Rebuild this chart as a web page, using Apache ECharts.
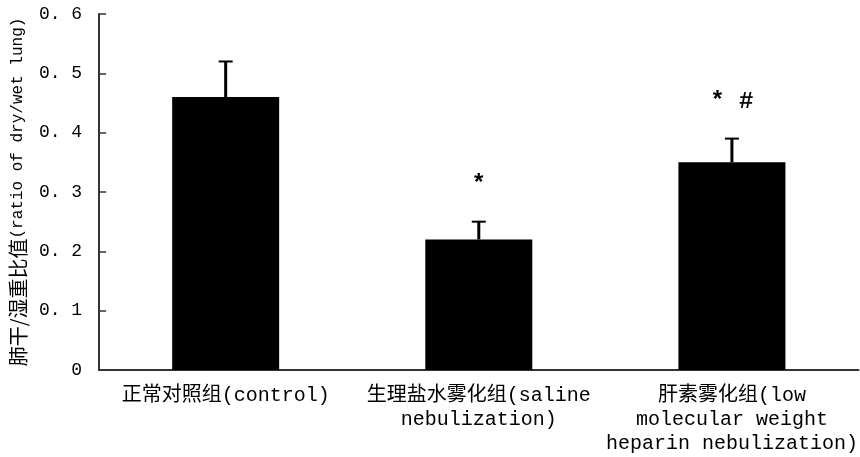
<!DOCTYPE html>
<html>
<head>
<meta charset="utf-8">
<script src="https://cdn.jsdelivr.net/npm/echarts@6/dist/echarts.min.js"></script>
<style>html,body{margin:0;padding:0;background:#fff;}#c{width:860px;height:457px;}</style>
</head>
<body>
<div id="c"></div>
<script>
var categories = ['正常对照组(control)', '生理盐水雾化组(saline\nnebulization)', '肝素雾化组(low\nmolecular weight\nheparin nebulization)'];
var means = [0.46, 0.22, 0.35];
var errorTops = [0.52, 0.25, 0.39];
var marks = ['', '*', '* #'];
var yTickLabels = ['0', '0. 1', '0. 2', '0. 3', '0. 4', '0. 5', '0. 6'];
var yTitleCJK = '肺干/湿重比值';
var yTitleLatin = '(ratio of dry/wet lung)';

var MONO = '"Liberation Mono", "DejaVu Sans Mono", monospace';
var CJK = '"Noto Sans CJK SC", sans-serif';

var chart = echarts.init(document.getElementById('c'));
var errData = means.map(function (m, i) { return [i, m, errorTops[i]]; });

chart.setOption({
  animation: false,
  grid: { left: 96, top: 14, bottom: 87, width: 765, containLabel: false },
  xAxis: {
    type: 'category',
    data: categories,
    axisLine: { lineStyle: { color: '#333', width: 2 } },
    axisTick: { inside: true, length: 7, lineStyle: { color: '#222', width: 2 } },
    axisLabel: {
      interval: 0,
      margin: 14,
      color: '#000',
      fontSize: 20,
      lineHeight: 24,
      fontFamily: MONO + ', ' + CJK,
      align: 'center'
    }
  },
  yAxis: {
    type: 'value',
    min: 0, max: 0.6, interval: 0.1,
    splitLine: { show: false },
    axisLine: { show: true, lineStyle: { color: '#333', width: 2 } },
    axisTick: { show: true, inside: true, length: 7, lineStyle: { color: '#333', width: 1.5 } },
    axisLabel: {
      margin: 17,
      color: '#000',
      fontSize: 18,
      fontFamily: MONO,
      formatter: function (v) { return yTickLabels[Math.round(v * 10)]; }
    },
    name: '{c|' + yTitleCJK + '}{l|' + yTitleLatin + '}',
    nameLocation: 'middle',
    nameGap: 65,
    nameTextStyle: {
      rich: {
        c: { fontSize: 20, fontFamily: CJK, color: '#000' },
        l: { fontSize: 16, fontFamily: MONO, color: '#000' }
      }
    }
  },
  series: [
    {
      type: 'bar',
      data: means,
      barWidth: 107,
      itemStyle: { color: '#000' },
      z: 2
    },
    {
      type: 'custom',
      data: errData,
      z: 3,
      renderItem: function (params, api) {
        var i = api.value(0);
        var base = api.coord([i, api.value(1)]);
        var top = api.coord([i, api.value(2)]);
        var capHalf = 7;
        var children = [
          { type: 'line', shape: { x1: base[0], y1: base[1], x2: top[0], y2: top[1] }, style: { stroke: '#000', lineWidth: 3 } },
          { type: 'line', shape: { x1: top[0] - capHalf, y1: top[1], x2: top[0] + capHalf, y2: top[1] }, style: { stroke: '#000', lineWidth: 2 } }
        ];
        var m = marks[params.dataIndex];
        if (m) {
          children.push({
            type: 'text',
            style: {
              text: m, x: top[0], y: top[1] - 37,
              align: 'center', verticalAlign: 'middle',
              fontSize: 24, fontFamily: MONO, fill: '#000', fontWeight: 'bold'
            }
          });
        }
        return { type: 'group', children: children };
      }
    }
  ]
});
</script>
</body>
</html>
